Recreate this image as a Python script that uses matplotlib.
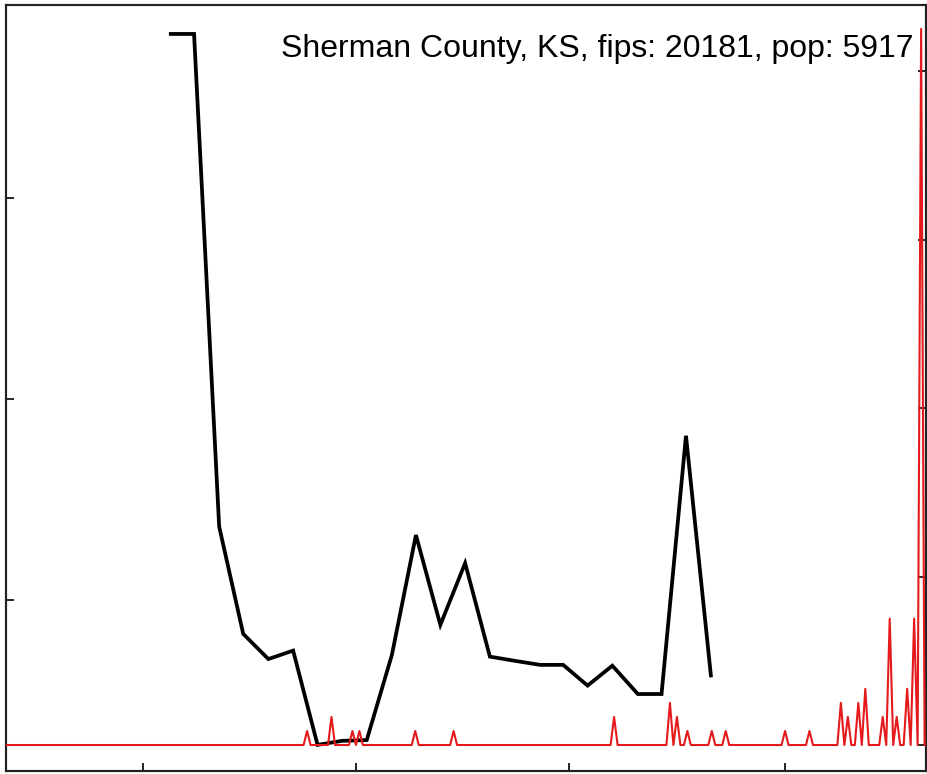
import numpy as np
import matplotlib
matplotlib.use("Agg")
import matplotlib.pyplot as plt

# ---- data ----
# black series (left axis): day index (days since 2020-01-22) and value
black_days = [46.4, 53.6, 60.8, 67.7, 74.9, 82.0, 89.0, 96.0, 103.1, 110.3, 117.2,
              124.2, 131.3, 138.4, 145.6, 152.8, 159.4, 166.4, 173.5, 180.8, 187.6,
              194.6, 201.8]
black_vals = [381.6, 381.6, 136.5, 83.1, 70.6, 74.8, 27.9, 29.9, 30.3, 72.6, 132.3,
              87.6, 118.3, 71.8, 69.7, 67.7, 67.7, 57.4, 67.3, 53.2, 53.2,
              181.7, 61.5]

# red series (right axis): daily counts, nonzero days only
n_days = 264
red_days = [86, 93, 99, 101, 117, 128, 174, 190, 192, 195, 202, 206, 223, 230,
            239, 241, 244, 246, 251, 253, 255, 258, 260, 262]
red_vals = [1, 2, 1, 1, 1, 1, 2, 3, 2, 1, 1, 1, 1, 1,
            3, 2, 3, 4, 2, 9, 2, 4, 9, 51]

# x ticks: Mar 1, May 1, Jul 1, Sep 1 (days since Jan 22)
xticks = [39, 100, 161, 223]
left_ticks = [100, 200, 300]
right_ticks = [0, 12, 24, 36, 48]

title = "Sherman County, KS, fips: 20181, pop: 5917"

# ---- build red daily array ----
red_x = np.arange(n_days)
red_y = np.zeros(n_days)
red_y[red_days] = red_vals

# ---- figure ----
W, H = 928, 774
fig = plt.figure(figsize=(W / 100, H / 100), dpi=100)
ax = fig.add_axes([6 / W, 3 / H, 920 / W, 766 / H])
ax2 = ax.twinx()

ax.plot(black_days, black_vals, color="black", lw=2.7, solid_joinstyle="miter",
        solid_capstyle="butt", zorder=3)
ax2.plot(red_x, red_y, color="#e41a1c", lw=1.5, zorder=3)

ax.set_xlim(-0.3, 263.4)
ax.set_ylim(14.9, 396.0)
ax2.set_ylim(-1.85, 52.7)

ax.set_xticks(xticks)
ax.set_yticks(left_ticks)
ax2.set_yticks(right_ticks)

ax.tick_params(axis="both", direction="in", length=6, width=1.2, labelbottom=False,
               labelleft=False, top=False, right=False)
ax2.tick_params(axis="y", direction="in", length=6, width=1.2, labelright=False)
ax2.tick_params(axis="x", top=False, bottom=False)

for a in (ax, ax2):
    for s in a.spines.values():
        s.set_linewidth(1.5)
        s.set_color("#222222")

ax2.text(0.986, 0.932, title, transform=ax.transAxes, ha="right", va="baseline",
         fontsize=23, family="Liberation Sans", color="black")

fig.savefig("out.png", dpi=100)
